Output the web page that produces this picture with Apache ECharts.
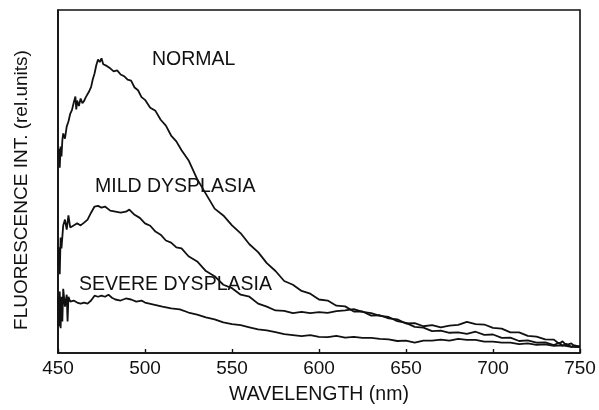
<!DOCTYPE html>
<html>
<head>
<meta charset="utf-8">
<script src="https://cdn.jsdelivr.net/npm/echarts@6/dist/echarts.min.js"></script>
<style>html,body{margin:0;padding:0;background:#fff;}#c{width:599px;height:410px;}</style>
</head>
<body>
<div id="c"></div>
<script>
// Wavelength (nm) and fluorescence intensity (rel. units)
var normalWl = [450,450.5,451,451.5,452,452.5,453,454,455,456,457,458,459,460,460.5,461,462,463,464,465,466,467,468,469,470,471,472,473,474,475,476,477,478,480,482,484,486,488,490,492,494,496,498,500,503,506,509,512,515,518,521,525,530,535,540,545,550,555,560,565,570,575,580,585,590,595,600,605,610,615,620,625,630,635,640,645,650,655,660,665,670,675,680,685,690,695,700,705,710,715,720,725,730,735,738,740,742,745,747,750];
var normalVal = [56.8,59.5,54.0,60.2,57.3,62.0,64.0,62.5,66.0,67.5,69.7,70.8,72.9,74.8,71.0,73.6,72.0,74.2,72.8,73.5,74.6,74.9,76.4,77.5,79.8,81.5,83.9,85.6,84.8,85.9,84.2,84.6,83.7,83.0,82.1,82.4,81.2,80.7,79.7,79.4,77.4,76.6,74.6,73.8,71.5,70.6,68.0,66.3,63.4,61.7,59.1,56.2,50.7,46.4,42.1,40.1,37.2,34.9,31.7,29.4,26.2,23.9,21.0,19.9,18.1,17.3,15.6,15.3,13.8,13.6,12.1,12.1,10.9,11.0,10.1,9.8,8.6,8.7,7.8,8.1,7.5,8.0,8.2,9.1,8.4,8.3,7.3,7.1,6.0,6.0,5.0,4.8,4.0,3.9,2.7,3.4,2.3,2.8,1.9,2.0];

var mildWl = [450,450.5,451,451.5,452,453,454,455,456,457,459,461,463,465,467,469,471,473,475,477,480,483,486,489,491,494,497,500,503,506,509,512,515,518,521,525,530,535,540,545,550,555,560,565,570,575,580,585,590,595,600,605,610,615,620,625,630,635,640,645,650,655,660,665,670,675,680,685,690,695,700,705,710,715,720,725,730,735,738,740,742,745,747,750];
var mildVal = [25.6,30.8,23.0,33.7,30.5,37.2,38.9,36.0,40.1,36.6,37.2,37.8,37.2,38.0,38.9,40.9,42.7,42.9,42.4,42.7,41.5,41.2,40.9,41.2,41.8,40.3,39.4,37.8,37.1,35.4,34.5,32.8,32.2,30.8,30.5,28.2,26.7,23.9,22.4,19.9,18.9,17.0,16.4,14.4,13.5,12.4,12.3,11.6,12.0,11.6,11.9,11.7,12.2,12.4,12.8,12.0,11.6,10.8,10.5,9.3,8.8,7.6,7.4,6.4,6.5,5.9,6.0,5.6,6.2,5.3,5.4,4.4,4.5,3.5,3.7,3.0,3.1,2.3,3.0,2.1,2.7,1.8,2.2,1.7];

var severeWl = [450,450.5,451,451.5,452,452.5,453,454,455,455.5,456,457,459,461,463,465,467,469,471,473,475,477,479,481,483,486,489,492,495,498,500,505,510,515,520,525,530,535,540,545,550,555,560,565,570,575,580,585,590,595,600,605,610,615,620,625,630,635,640,645,650,655,660,665,670,675,680,685,690,695,700,705,710,715,720,725,730,735,740,745,750];
var severeVal = [16.4,7.8,17.9,7.2,16.4,9.2,18.7,13.5,17.0,9.2,16.4,15.0,15.3,14.7,14.4,14.7,14.4,15.3,16.7,16.4,16.7,16.4,17.0,16.1,15.6,15.3,15.9,15.6,15.0,15.3,14.7,14.1,13.5,13.0,12.7,11.8,11.2,10.4,9.8,8.9,8.4,8.1,7.5,6.9,6.6,6.1,5.5,5.2,4.9,5.2,4.7,4.6,5.0,4.5,4.7,4.4,4.4,4.1,4.0,3.5,3.6,3.0,3.6,3.6,3.9,3.6,4.1,3.8,3.8,3.3,3.3,3.0,3.0,2.6,2.8,2.4,2.5,2.1,2.2,1.8,1.7];

var seriesNames = ['NORMAL','MILD DYSPLASIA','SEVERE DYSPLASIA'];
var xTicks = [450,500,550,600,650,700,750];

function pairs(wl, v){ return wl.map(function(w,i){ return [w, v[i]]; }); }

var FONT = '"Liberation Sans", Arial, Helvetica, sans-serif';
var INK = '#111';
var chart = echarts.init(document.getElementById('c'), null, {renderer:'canvas'});

function lineSeries(name, wl, v){
  return {
    name: name, type: 'line', data: pairs(wl, v),
    showSymbol: false, symbol: 'none', smooth: false,
    lineStyle: {color: INK, width: 1.8},
    silent: true, animation: false
  };
}

chart.setOption({
  animation: false,
  backgroundColor: '#fff',
  grid: {left: 58, right: 19, top: 10, bottom: 53, show: true, borderColor: INK, borderWidth: 1.6, backgroundColor: 'transparent'},
  xAxis: {
    type: 'value', min: xTicks[0], max: xTicks[xTicks.length-1], interval: 50,
    name: 'WAVELENGTH (nm)', nameLocation: 'middle', nameGap: 32,
    nameTextStyle: {fontFamily: FONT, fontSize: 19.5, color: INK},
    axisLine: {show: true, lineStyle: {color: INK, width: 1.6}},
    axisTick: {show: true, inside: true, length: 4, lineStyle: {color: INK, width: 1.4}},
    axisLabel: {fontFamily: FONT, fontSize: 19, color: INK, margin: 6},
    splitLine: {show: false}
  },
  yAxis: {
    type: 'value', min: 0, max: 100,
    axisLine: {show: true, lineStyle: {color: INK, width: 1.6}},
    axisTick: {show: false}, axisLabel: {show: false}, splitLine: {show: false}
  },
  graphic: [
    {type: 'text', x: 22, y: 190, rotation: Math.PI/2,
     style: {text: 'FLUORESCENCE INT. (rel.units)', font: '19px ' + FONT, fill: INK, align: 'center', verticalAlign: 'middle'}},
    {type: 'text', x: 152, y: 60, style: {text: seriesNames[0], font: '19.5px ' + FONT, fill: INK, align: 'left', verticalAlign: 'middle'}},
    {type: 'text', x: 95, y: 187, style: {text: seriesNames[1], font: '19.5px ' + FONT, fill: INK, align: 'left', verticalAlign: 'middle'}},
    {type: 'text', x: 79, y: 285, style: {text: seriesNames[2], font: '19.5px ' + FONT, fill: INK, align: 'left', verticalAlign: 'middle'}}
  ],
  series: [
    lineSeries(seriesNames[0], normalWl, normalVal),
    lineSeries(seriesNames[1], mildWl, mildVal),
    lineSeries(seriesNames[2], severeWl, severeVal)
  ]
});
</script>
</body>
</html>
